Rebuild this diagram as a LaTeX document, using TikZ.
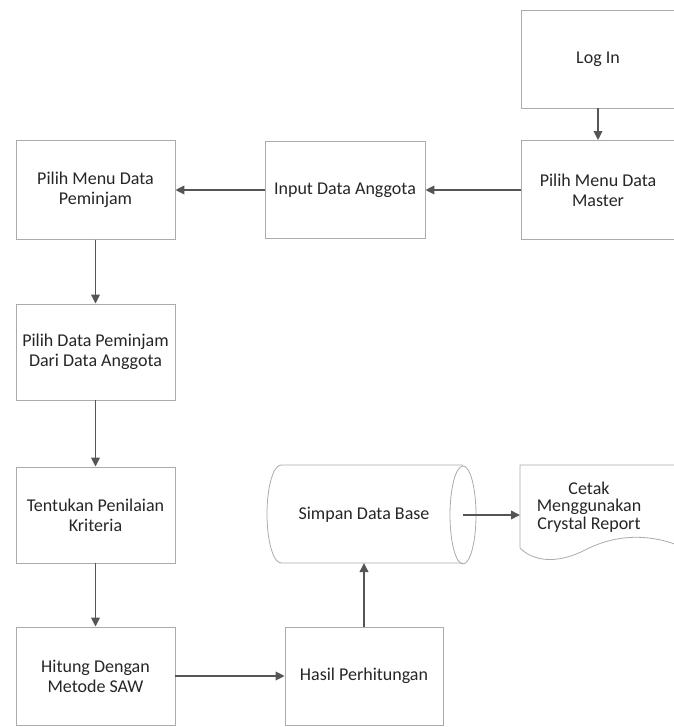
\documentclass[tikz,border=0pt]{standalone}
\usepackage{fontspec}
\setmainfont{Carlito}
\usetikzlibrary{arrows.meta}
\definecolor{boxline}{HTML}{ABABAB}
\definecolor{arrline}{HTML}{555555}
\definecolor{txt}{HTML}{262626}
\begin{document}
\begin{tikzpicture}[x=1pt,y=-1pt,
  box/.style={draw=boxline,line width=0.8pt,rectangle,minimum width=158pt,minimum height=98pt,
    align=center,text=txt,font=\fontsize{18}{20}\selectfont,inner sep=0pt},
  lbl/.style={align=center,text=txt,font=\fontsize{18}{17.5}\selectfont,inner sep=0pt},
  shp/.style={draw=boxline,line width=0.8pt},
  arr/.style={draw=arrline,line width=1.9pt,-{Triangle[length=9pt,width=8.5pt]}}]
\useasboundingbox[fill=white] (0,0) rectangle (673,727);
% boxes
\node[box,minimum width=154pt] (login) at (598,59) {Log In};
\node[box,minimum width=154pt,minimum height=99pt] (master) at (598,190) {Pilih Menu Data\\Master};
\node[box,minimum width=160pt,minimum height=97pt] (input) at (345,190) {Input Data Anggota};
\node[box,minimum width=159pt,minimum height=99pt] (peminjam) at (95.5,190) {Pilih Menu Data\\Peminjam};
\node[box,minimum width=159pt,minimum height=96pt] (pilihdata) at (95.5,352) {Pilih Data Peminjam\\Dari Data Anggota};
\node[box,minimum width=159pt,minimum height=96pt] (tentukan) at (95.5,515) {Tentukan Penilaian\\Kriteria};
\node[box,minimum width=159pt] (hitung) at (95.5,676) {Hitung Dengan\\Metode SAW};
\node[box] (hasil) at (364,676) {Hasil Perhitungan};
% database cylinder (horizontal)
\draw[shp] (463,465) -- (281,465) arc[start angle=270,end angle=90,x radius=14,y radius=49] -- (463,563);
\draw[shp] (463,515) ellipse[x radius=13,y radius=49];
\node[lbl] (db) at (364,515) {Simpan Data Base};
\coordinate (dbbottom) at (364,563);
\coordinate (dbright) at (463,515);
% document shape
\draw[shp] (680,546) .. controls (645,532) and (612,536) .. (585,550)
  .. controls (560,563) and (535,563) .. (520,548) -- (520,465) -- (680,465);
\node[lbl] (cetak) at (589,507) {Cetak\\Menggunakan\\Crystal Report};
\coordinate (cetakwest) at (520,515);
% connectors
\draw[arr] (login) -- (master);
\draw[arr] (master) -- (input);
\draw[arr] (input) -- (peminjam);
\draw[arr] (peminjam) -- (pilihdata);
\draw[arr] (pilihdata) -- (tentukan);
\draw[arr] (tentukan) -- (hitung);
\draw[arr] (hitung) -- (hasil);
\draw[arr] (hasil) -- (dbbottom);
\draw[arr] (dbright) -- (cetakwest);
\end{tikzpicture}
\end{document}
